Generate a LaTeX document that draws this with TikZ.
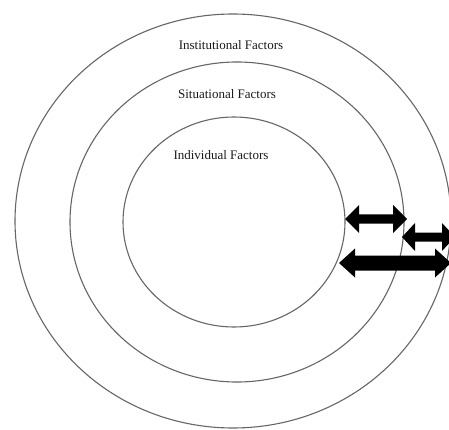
\documentclass[tikz,border=0pt]{standalone}
\usepackage{fontspec}
\setmainfont{Liberation Serif}
\usepackage{tikz}
\usetikzlibrary{positioning}

% two-headed block arrow: left x, right x, y, shaft half, head half, head length
\newcommand{\twoway}[6]{%
  \fill[black] (#1,#3) -- ({#1+#6},{#3-#5}) -- ({#1+#6},{#3-#4}) -- ({#2-#6},{#3-#4})
    -- ({#2-#6},{#3-#5}) -- (#2,#3) -- ({#2-#6},{#3+#5}) -- ({#2-#6},{#3+#4})
    -- ({#1+#6},{#3+#4}) -- ({#1+#6},{#3+#5}) -- cycle;}

\begin{document}
\begin{tikzpicture}[x=1pt, y=-1pt, ring/.style={draw=black!60, line width=1.1pt},
  factor/.style={font=\fontsize{13}{15}\selectfont, text=black!90, inner sep=0pt}]
            \useasboundingbox (0,0) rectangle (449,430);
            \clip (0,0) rectangle (449,430);
            \draw[ring] (233,221) ellipse [x radius=218, y radius=207];
            \draw[ring] (237,222) ellipse [x radius=167, y radius=160];
            \draw[ring] (234,222) ellipse [x radius=111, y radius=105];
            \node[factor](institutional) at (231,45) {Institutional Factors};
            \node[factor](situational) at (227,94) {Situational Factors};
            \node[factor](individual) at (221,155) {Individual Factors};
            \twoway{345}{407}{219}{4.5}{14}{14}
            \twoway{402}{455}{237}{4.5}{14}{13}
            \twoway{339}{451}{263}{7.5}{14.5}{16}
        \end{tikzpicture}
\end{document}
